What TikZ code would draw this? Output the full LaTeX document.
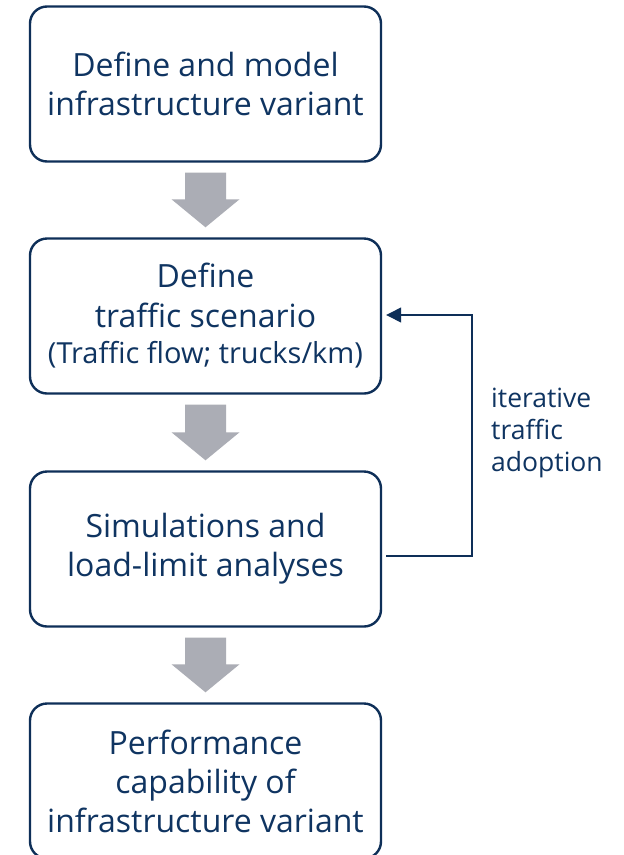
\documentclass[tikz,border=0pt]{standalone}
\usepackage{fontspec}
\setmainfont{Open Sans}
\usetikzlibrary{arrows.meta,calc}
\definecolor{navy}{HTML}{0F3461}
\definecolor{navyline}{HTML}{0E2F58}
\definecolor{blockgrey}{HTML}{ABADB5}
\tikzset{
  stepbox/.style={draw=navyline, line width=2.4pt, rounded corners=17pt, fill=white,
    minimum width=351pt, minimum height=155pt, align=center, text=navy,
    font=\fontsize{32}{39}\selectfont, inner sep=0pt},
  blockarrow/.style={fill=blockgrey, draw=none},
  fbline/.style={draw=navyline, line width=1.3pt, -{Triangle[length=15pt,width=15pt]}},
  sidelabel/.style={text=navy, align=left, anchor=west, inner sep=0pt,
    font=\fontsize{26.5}{32}\selectfont},
}
\begin{document}
\begin{tikzpicture}[x=1pt,y=-1pt]
\clip (0,0) rectangle (624,855);
\fill[white] (0,0) rectangle (624,855);

\node[stepbox] (b1) at (205.5,84) {Define and model\\infrastructure variant};
\node[stepbox] (b2) at (205.5,316) {Define\\[1pt]traffic scenario\\[-3pt]{\fontsize{29}{32}\selectfont (Traffic flow; trucks/km)}};
\node[stepbox] (b3) at (205.5,549) {Simulations and\\load-limit analyses};
\node[stepbox] (b4) at (205.5,781) {Performance\\capability of\\infrastructure variant};

% grey block arrows
\foreach \a/\b in {b1/b2, b2/b3, b3/b4}{
  \fill[blockarrow] ($(\a.south)+(-20.5,10)$) -- ($(\a.south)+(20.5,10)$)
    -- ($(\b.north)+(20.5,-38)$) -- ($(\b.north)+(34,-38)$)
    -- ($(\b.north)+(0,-10)$)
    -- ($(\b.north)+(-34,-38)$) -- ($(\b.north)+(-20.5,-38)$) -- cycle;
}

% feedback loop
\coordinate (fbstart) at ($(b3.east)+(4,7)$);
\coordinate (fbx) at (472,0);
\coordinate (fbend) at ($(b2.east)+(4,-1)$);
\draw[fbline] (fbstart) -- (fbx |- fbstart) -- (fbx |- fbend) -- (fbend);

\node[sidelabel] (lbl) at (491,433) {iterative\\traffic\\adoption};
\end{tikzpicture}
\end{document}
